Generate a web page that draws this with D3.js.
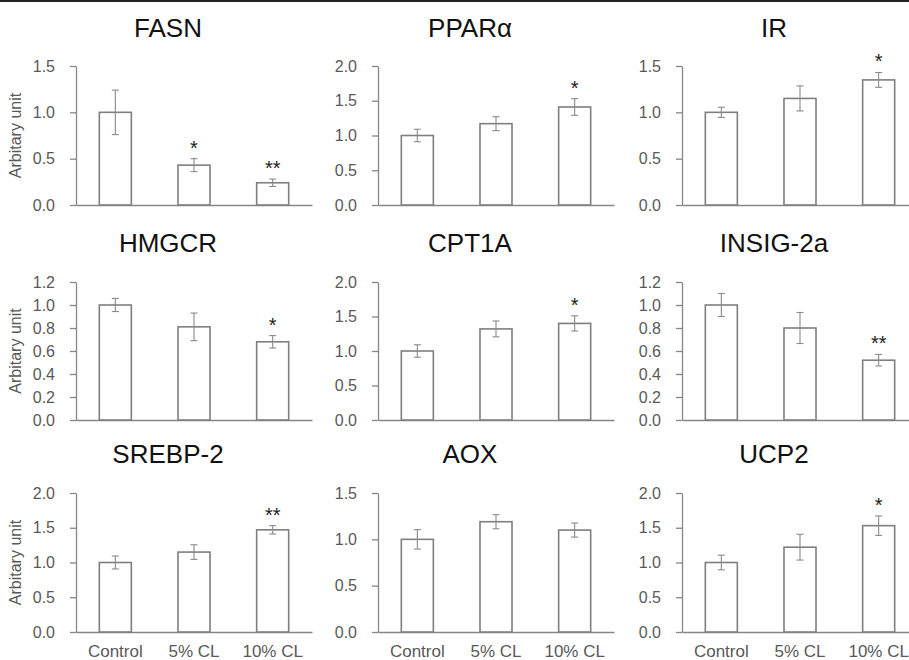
<!DOCTYPE html>
<html>
<head>
<meta charset="utf-8">
<script src="https://d3js.org/d3.v7.min.js"></script>
<style>
	body { margin: 0; background: #fff; }
	svg { display: block; font-family: "Liberation Sans", Arial, sans-serif; }
</style>
</head>
<body>
<div id="chart"></div>
<script>
// one panel per gene (mean and error bar half-length)
var GENES = ["FASN", "PPARα", "IR", "HMGCR", "CPT1A", "INSIG-2a", "SREBP-2", "AOX", "UCP2"];
var GROUPS = ["Control", "5% CL", "10% CL"];

var MEANS = [
	[1.00, 0.43, 0.24],
	[1.00, 1.17, 1.41],
	[1.00, 1.15, 1.35],
	[1.00, 0.81, 0.68],
	[1.00, 1.32, 1.40],
	[1.00, 0.80, 0.52],
	[1.00, 1.15, 1.47],
	[1.00, 1.19, 1.10],
	[1.00, 1.22, 1.53]
];

var ERRORS = [
	[0.24, 0.07, 0.04],
	[0.09, 0.10, 0.12],
	[0.055, 0.135, 0.08],
	[0.057, 0.12, 0.054],
	[0.09, 0.115, 0.11],
	[0.10, 0.135, 0.05],
	[0.093, 0.105, 0.06],
	[0.105, 0.076, 0.076],
	[0.105, 0.185, 0.14]
];

var STARS = [
	["", "*", "**"],
	["", "", "*"],
	["", "", "*"],
	["", "", "*"],
	["", "", "*"],
	["", "", "**"],
	["", "", "**"],
	["", "", ""],
	["", "", "*"]
];

var Y_MAX = [1.5, 2.0, 1.5, 1.2, 2.0, 1.2, 2.0, 1.5, 2.0];
var Y_STEP = [0.5, 0.5, 0.5, 0.2, 0.5, 0.2, 0.5, 0.5, 0.5];
var Y_LABEL = "Arbitary unit";

// layout of the 3x3 grid
var WIDTH = 909, HEIGHT = 660;
var COL_X = [76, 378, 682];
var ROW_TOP = [66, 282, 493];
var ROW_BOTTOM = [205, 420, 632];
var TITLE_Y = [37, 252, 463];
var PLOT_W = 236;

var AXIS_COLOR = "#868686";
var TEXT_COLOR = "#595959";
var BAR_COLOR = "#7f7f7f";

var svg = d3.select("#chart").append("svg")
	.attr("width", WIDTH)
	.attr("height", HEIGHT);

// dark rule along the top edge
svg.append("line")
	.attr("x1", 0).attr("x2", WIDTH)
	.attr("y1", 1).attr("y2", 1)
	.attr("stroke", "#222")
	.attr("stroke-width", 2);

GENES.forEach(function(gene, i) {
	var col = i % 3;
	var row = Math.floor(i / 3);
	var top = ROW_TOP[row], bottom = ROW_BOTTOM[row];

	var g = svg.append("g")
		.attr("transform", "translate(" + COL_X[col] + ",0)");

	var x = d3.scaleBand()
		.domain(GROUPS)
		.range([0, PLOT_W])
		.paddingInner(0.593)
		.paddingOuter(0.2965);

	var y = d3.scaleLinear()
		.domain([0, Y_MAX[i]])
		.range([bottom, top]);

	var ticks = d3.range(0, Y_MAX[i] + 1e-9, Y_STEP[i]);

	// title
	g.append("text")
		.attr("x", 92)
		.attr("y", TITLE_Y[row])
		.attr("text-anchor", "middle")
		.attr("font-size", "26px")
		.attr("fill", "#111")
		.text(gene);

	// y axis
	var yAxis = g.append("g")
		.call(d3.axisLeft(y)
			.tickValues(ticks)
			.tickFormat(d3.format(".1f"))
			.tickSize(6)
			.tickSizeOuter(0)
			.tickPadding(15));
	yAxis.selectAll("path, line").attr("stroke", AXIS_COLOR).attr("stroke-width", 1.3);
	yAxis.selectAll("text").attr("font-size", "16px").attr("fill", TEXT_COLOR)
		.attr("font-family", "Liberation Sans, Arial, sans-serif");

	// x axis, labels only on the bottom row
	var xAxis = g.append("g")
		.attr("transform", "translate(0," + bottom + ")")
		.call(d3.axisBottom(x)
			.tickSize(0)
			.tickSizeOuter(0)
			.tickPadding(13)
			.tickFormat(function(d) { return row == 2 ? d : ""; }));
	xAxis.selectAll("path").attr("stroke", AXIS_COLOR).attr("stroke-width", 1.3);
	xAxis.selectAll("text").attr("font-size", "17px").attr("fill", TEXT_COLOR)
		.attr("font-family", "Liberation Sans, Arial, sans-serif");

	var data = GROUPS.map(function(grp, j) {
		return { group: grp, mean: MEANS[i][j], err: ERRORS[i][j], star: STARS[i][j] };
	});

	// bars
	g.selectAll(".bar")
		.data(data)
		.enter()
		.append("rect")
		.attr("class", "bar")
		.attr("x", function(d) { return x(d.group); })
		.attr("y", function(d) { return y(d.mean); })
		.attr("width", x.bandwidth())
		.attr("height", function(d) { return y(0) - y(d.mean); })
		.attr("fill", "#fff")
		.attr("stroke", BAR_COLOR)
		.attr("stroke-width", 1.6);

	// error bars
	var cap = 3.5;
	var eb = g.selectAll(".err")
		.data(data)
		.enter()
		.append("g")
		.attr("class", "err")
		.attr("stroke", "#8a8a8a")
		.attr("stroke-width", 1.1);
	eb.append("line")
		.attr("x1", function(d) { return x(d.group) + x.bandwidth() / 2; })
		.attr("x2", function(d) { return x(d.group) + x.bandwidth() / 2; })
		.attr("y1", function(d) { return y(d.mean - d.err); })
		.attr("y2", function(d) { return y(d.mean + d.err); });
	eb.append("line")
		.attr("x1", function(d) { return x(d.group) + x.bandwidth() / 2 - cap; })
		.attr("x2", function(d) { return x(d.group) + x.bandwidth() / 2 + cap; })
		.attr("y1", function(d) { return y(d.mean + d.err); })
		.attr("y2", function(d) { return y(d.mean + d.err); });
	eb.append("line")
		.attr("x1", function(d) { return x(d.group) + x.bandwidth() / 2 - cap; })
		.attr("x2", function(d) { return x(d.group) + x.bandwidth() / 2 + cap; })
		.attr("y1", function(d) { return y(d.mean - d.err); })
		.attr("y2", function(d) { return y(d.mean - d.err); });

	// significance marks
	g.selectAll(".star")
		.data(data.filter(function(d) { return d.star != ""; }))
		.enter()
		.append("text")
		.attr("class", "star")
		.attr("x", function(d) { return x(d.group) + x.bandwidth() / 2; })
		.attr("y", function(d) { return y(d.mean + d.err) - 4; })
		.attr("text-anchor", "middle")
		.attr("font-size", "20px")
		.attr("fill", "#222")
		.text(function(d) { return d.star; });

	// y axis title on the left column only
	if (col == 0) {
		svg.append("text")
			.attr("transform", "translate(21," + (top + bottom) / 2 + ") rotate(-90)")
			.attr("text-anchor", "middle")
			.attr("font-size", "16px")
			.attr("fill", TEXT_COLOR)
			.text(Y_LABEL);
	}
});
</script>
</body>
</html>
